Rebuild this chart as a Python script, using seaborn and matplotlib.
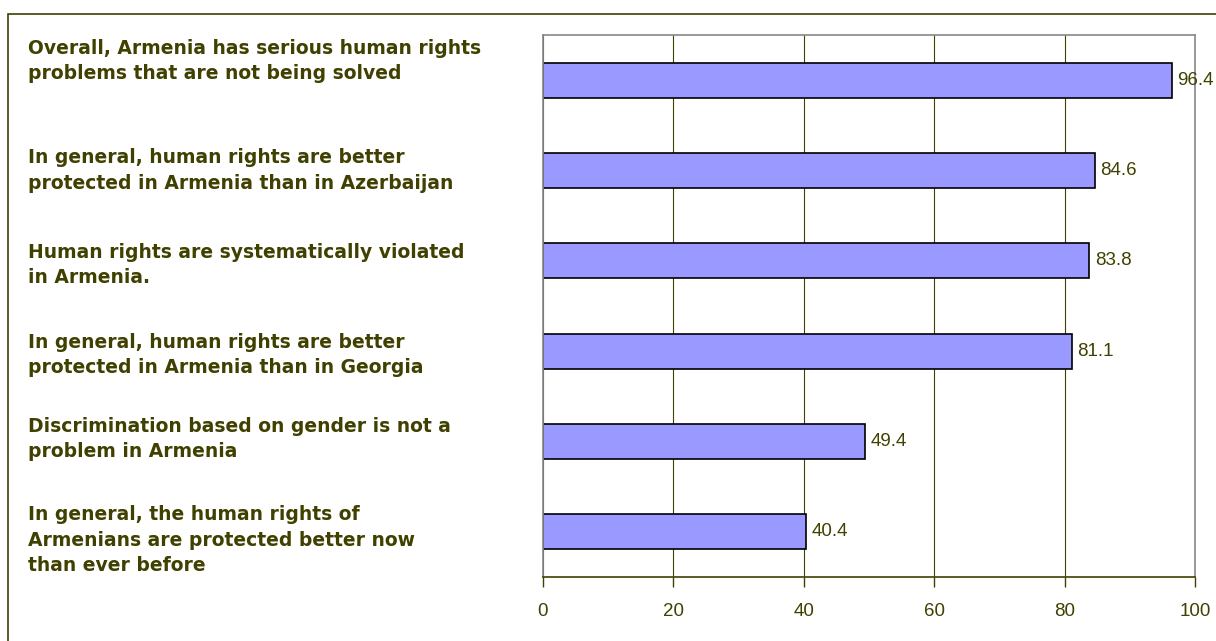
import matplotlib
matplotlib.use("Agg")
import matplotlib.pyplot as plt
import matplotlib.transforms as mtransforms
from matplotlib.patches import Rectangle
import seaborn as sns
import pandas as pd

statements = [
    "Overall, Armenia has serious human rights\nproblems that are not being solved",
    "In general, human rights are better\nprotected in Armenia than in Azerbaijan",
    "Human rights are systematically violated\nin Armenia.",
    "In general, human rights are better\nprotected in Armenia than in Georgia",
    "Discrimination based on gender is not a\nproblem in Armenia",
    "In general, the human rights of\nArmenians are protected better now\nthan ever before",
]
agree_pct = [96.4, 84.6, 83.8, 81.1, 49.4, 40.4]
x_ticks = [0, 20, 40, 60, 80, 100]

olive = "#404000"
bar_fill = "#9999FF"

sns.set_theme(style="white")
plt.rcParams["font.family"] = ["Liberation Sans", "DejaVu Sans"]

df = pd.DataFrame({"statement": statements, "pct": agree_pct})

fig = plt.figure(figsize=(12.16, 6.41), dpi=100)
ax = fig.add_axes([543 / 1216, 1 - 577 / 641, (1195 - 543) / 1216, (577 - 35) / 641])

sns.barplot(data=df, x="pct", y="statement", orient="h", color=bar_fill,
            edgecolor="black", linewidth=1.2, width=0.39, saturation=1, ax=ax)

ax.set_xlim(0, 100)
ax.set_xticks(x_ticks)
ax.set_xticklabels([str(t) for t in x_ticks], color=olive, fontsize=13.5)
ax.tick_params(axis="x", direction="out", length=7, width=1, color=olive, pad=12, bottom=True)
ax.tick_params(axis="y", left=False, labelleft=False)
ax.set_xlabel("")
ax.set_ylabel("")

ax.grid(axis="x", color=olive, linewidth=0.8)
ax.set_axisbelow(True)
for side in ["left", "top", "right"]:
    ax.spines[side].set_color("#888888")
    ax.spines[side].set_linewidth(1.2)
ax.spines["bottom"].set_color(olive)
ax.spines["bottom"].set_linewidth(1.2)

for container in ax.containers:
    ax.bar_label(container, labels=[f"{v:.1f}" for v in agree_pct],
                 padding=4, color=olive, fontsize=13.5)

# statement labels, left aligned in the figure margin (first one sits a bit higher)
label_shift_pt = [14, 0, -3, -3, 2, -6]
trans = mtransforms.blended_transform_factory(fig.transFigure, ax.transData)
for i, s in enumerate(statements):
    t = trans + mtransforms.ScaledTranslation(0, label_shift_pt[i] / 72, fig.dpi_scale_trans)
    ax.text(28 / 1216, i, s, transform=t, ha="left", va="center",
            fontsize=13.5, fontweight="bold", color=olive, linespacing=1.42,
            family="DejaVu Sans", clip_on=False)

# outer chart frame
fig.patches.append(Rectangle((8 / 1216, -0.1), 1.2, 1 - 14 / 641 + 0.1,
                             transform=fig.transFigure, fill=False,
                             edgecolor=olive, linewidth=1.2))

fig.savefig("out.png", dpi=100)
